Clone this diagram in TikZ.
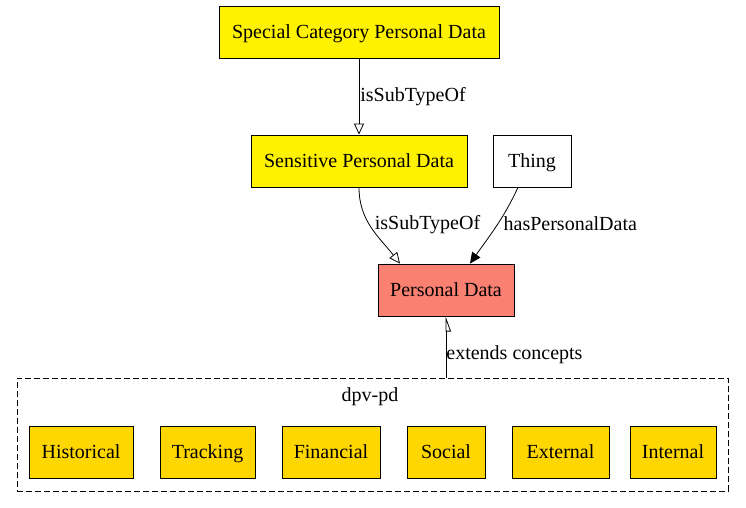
\documentclass[tikz,border=0pt]{standalone}
\usepackage{fontspec}
\setmainfont{Liberation Serif}
\usepackage{xcolor}
\usetikzlibrary{arrows.meta}
\definecolor{pdsalmon}{HTML}{FA8072}
\definecolor{pdgold}{HTML}{FFD700}
\newcommand{\subtip}{Triangle[open,length=11pt,width=10pt]}

\begin{document}
\begin{tikzpicture}[x=1pt,y=-1pt]
\tikzstyle{every node}=[inner sep=2pt,font=\fontsize{20}{22}\selectfont]
\tikzstyle{concept}=[draw,line width=0.8pt,minimum height=52pt,fill=yellow,text height=14pt,text depth=2pt]
\tikzstyle{member}=[concept,fill=pdgold]
\tikzstyle{rel}=[line width=0.8pt]
\useasboundingbox (0,0) rectangle (746,507);
\node[concept,minimum width=280pt] (scpd) at (359,32) {Special Category Personal Data};
\node[concept,minimum width=216pt] (spd) at (359,161) {Sensitive Personal Data};
\node[concept,fill=white,minimum width=78pt] (thing) at (532,161) {Thing};
\node[concept,fill=pdsalmon,minimum width=136pt] (pd) at (446,290) {Personal Data};
\node[draw,dash pattern=on 6pt off 3pt,line width=0.8pt,minimum width=711pt,minimum height=113pt] (dpvpd) at (372.5,434.5) {};
\node (dpvpdlabel) at (370,397) {dpv-pd};
\node[member,minimum width=104pt] (hist) at (81,452) {Historical};
\node[member,minimum width=95pt] (track) at (207.5,452) {Tracking};
\node[member,minimum width=98pt] (fin) at (331,452) {Financial};
\node[member,minimum width=78pt] (soc) at (446,452) {Social};
\node[member,minimum width=97pt] (ext) at (560.5,452) {External};
\node[member,minimum width=86pt] (int) at (673,452) {Internal};
\path[rel,arrows={-\subtip}] (scpd) edge node[midway,anchor=west,inner sep=1pt] {isSubTypeOf} (spd);
\draw[rel,arrows={-\subtip}] (spd.south) to[out=-90,in=128] node[pos=0.45,anchor=west,inner sep=5pt] {isSubTypeOf} ([xshift=-46pt]pd.north);
\draw[rel,arrows={-Triangle[length=11pt,width=10pt]}] ([xshift=-14pt]thing.south) to[out=-115,in=55] node[pos=0.45,anchor=west,inner sep=5pt] {hasPersonalData} ([xshift=24pt]pd.north);
\draw[rel,arrows={-Triangle[open,harpoon,swap,length=14pt,width=10pt]}] (dpvpd.north -| pd.south) -- node[pos=0.37,anchor=west,inner sep=0pt] {extends concepts} (pd.south);
\end{tikzpicture}
\end{document}
